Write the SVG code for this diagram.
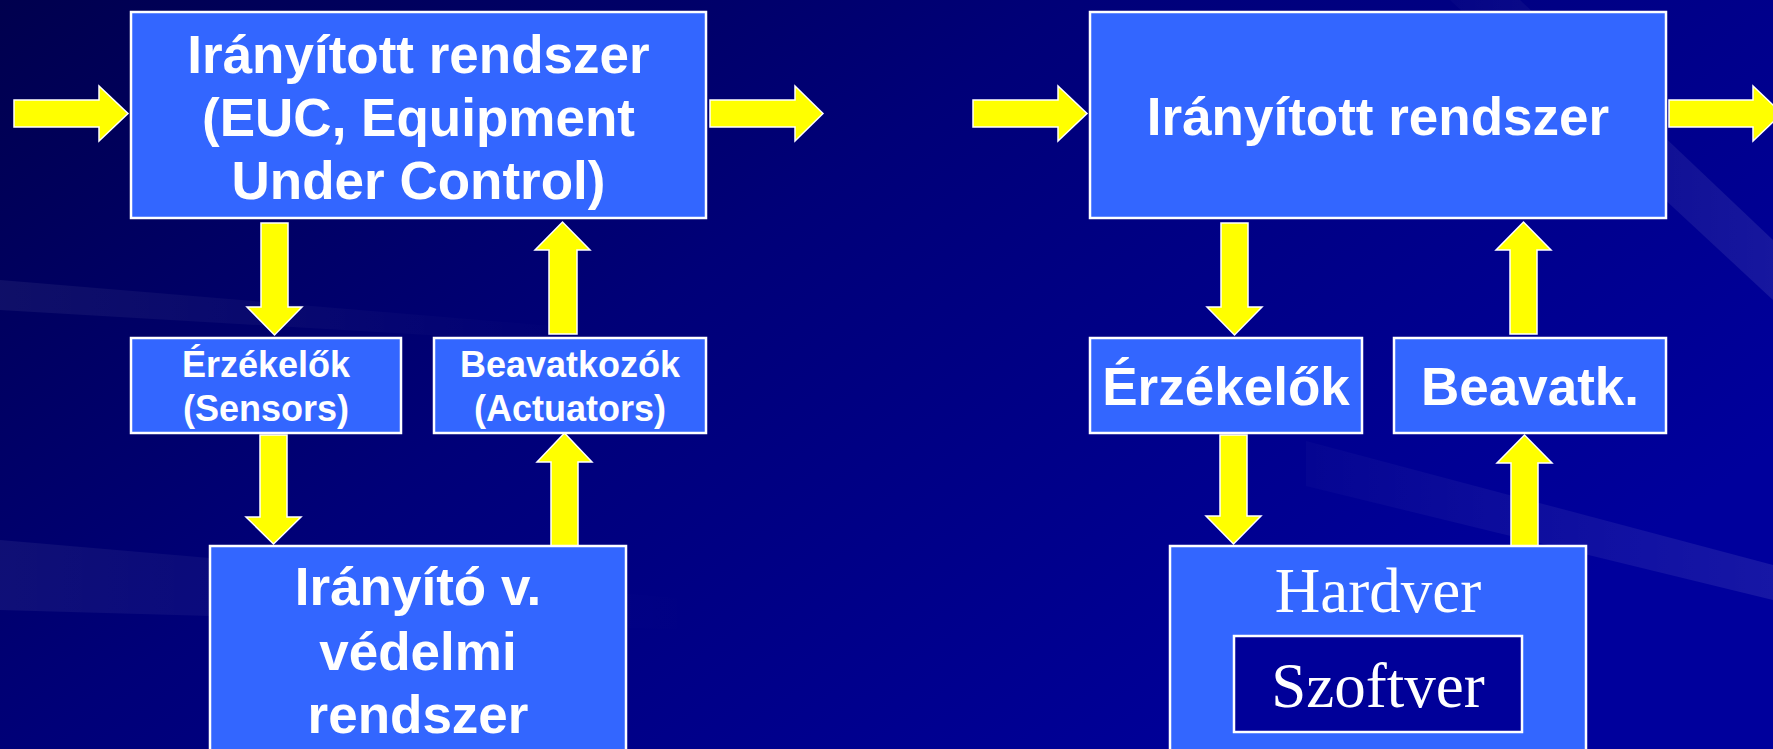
<svg xmlns="http://www.w3.org/2000/svg" width="1773" height="749" viewBox="0 0 1773 749">
<defs>
<linearGradient id="bg" x1="0" y1="0" x2="1" y2="0.6">
<stop offset="0" stop-color="#00004e"/>
<stop offset="0.45" stop-color="#000078"/>
<stop offset="1" stop-color="#00009c"/>
</linearGradient>
<linearGradient id="fadeR" x1="0" y1="0" x2="1" y2="0">
<stop offset="0" stop-color="#ffffff" stop-opacity="0.06"/>
<stop offset="1" stop-color="#ffffff" stop-opacity="0"/>
</linearGradient>
<linearGradient id="fadeL" x1="0" y1="0" x2="1" y2="0">
<stop offset="0" stop-color="#ffffff" stop-opacity="0.02"/>
<stop offset="1" stop-color="#ffffff" stop-opacity="0.09"/>
</linearGradient>
<style>
.box{fill:#3366ff;stroke:#ffffff;stroke-width:2.5}
.sw{fill:#000099;stroke:#ffffff;stroke-width:2.5}
.arr{fill:#ffff00;stroke:#ffffff;stroke-width:1.5;stroke-linejoin:miter}
.b{font-family:"Liberation Sans",Arial,sans-serif;font-weight:bold;fill:#ffffff;text-anchor:middle}
.big{font-size:53px}
.sm{font-size:36px}
.serif{font-family:"Liberation Serif","Times New Roman",serif;font-size:63px;fill:#ffffff;text-anchor:middle}
</style>
</defs>
<rect x="0" y="0" width="1773" height="749" fill="url(#bg)"/>
<g id="background-streaks">
<polygon fill="url(#fadeR)" points="0,540 700,600 700,630 0,610"/>
<polygon fill="url(#fadeR)" points="0,280 600,330 600,345 0,310"/>
<polygon fill="url(#fadeL)" points="1306,441 1773,565 1773,600 1306,486"/>
<polygon fill="url(#fadeL)" points="1450,0 1520,0 1773,240 1773,300"/>
</g>
<g id="connectors">
<path class="arr" d="M14,100 H99 V86 L128,113.5 L99,141 V127 H14 Z"/>
<path class="arr" d="M710,100 H795 V86 L823,113.5 L795,141 V127 H710 Z"/>
<path class="arr" d="M261,223 H288 V307 H302 L274.5,335 L247,307 H261 Z"/>
<path class="arr" d="M549,334 H577 V250 H590 L562.5,222 L535,250 H549 Z"/>
<path class="arr" d="M260,435 H287 V517 H301 L273.5,544 L246,517 H260 Z"/>
<path class="arr" d="M551,546 H578 V462 H592 L564.5,433 L537,462 H551 Z"/>
<path class="arr" d="M973,100 H1058 V86 L1087,113.5 L1058,141 V127 H973 Z"/>
<path class="arr" d="M1669,100 H1753 V86 L1782,113.5 L1753,141 V127 H1669 Z"/>
<path class="arr" d="M1221,223 H1248 V307 H1262 L1234.5,335 L1207,307 H1221 Z"/>
<path class="arr" d="M1510,334 H1537 V250 H1551 L1523.5,222 L1496,250 H1510 Z"/>
<path class="arr" d="M1220,435 H1247 V516 H1261 L1233.5,544 L1206,516 H1220 Z"/>
<path class="arr" d="M1511,546 H1538 V463 H1552 L1524.5,435 L1497,463 H1511 Z"/>
</g>
<g id="euc-left">
<rect class="box" x="131" y="12" width="575" height="206"/>
<text class="b big" x="418.5" y="73">Irányított rendszer</text>
<text class="b big" x="418.5" y="136">(EUC, Equipment</text>
<text class="b big" x="418.5" y="199">Under Control)</text>
</g>
<g id="sensors-left">
<rect class="box" x="131" y="338" width="270" height="95"/>
<text class="b sm" x="266" y="377">Érzékelők</text>
<text class="b sm" x="266" y="421">(Sensors)</text>
</g>
<g id="actuators-left">
<rect class="box" x="434" y="338" width="272" height="95"/>
<text class="b sm" x="570" y="377">Beavatkozók</text>
<text class="b sm" x="570" y="421">(Actuators)</text>
</g>
<g id="controller-left">
<rect class="box" x="210" y="546" width="416" height="215"/>
<text class="b big" x="418" y="605">Irányító v.</text>
<text class="b big" x="418" y="670">védelmi</text>
<text class="b big" x="418" y="733">rendszer</text>
</g>
<g id="euc-right">
<rect class="box" x="1090" y="12" width="576" height="206"/>
<text class="b big" x="1378" y="135">Irányított rendszer</text>
</g>
<g id="sensors-right">
<rect class="box" x="1090" y="338" width="272" height="95"/>
<text class="b big" x="1226" y="405">Érzékelők</text>
</g>
<g id="actuators-right">
<rect class="box" x="1394" y="338" width="272" height="95"/>
<text class="b big" x="1530" y="405">Beavatk.</text>
</g>
<g id="hardware-right">
<rect class="box" x="1170" y="546" width="416" height="215"/>
<text class="serif" x="1378" y="612">Hardver</text>
</g>
<g id="software-right">
<rect class="sw" x="1234" y="636" width="288" height="96"/>
<text class="serif" x="1378" y="707">Szoftver</text>
</g>
</svg>
